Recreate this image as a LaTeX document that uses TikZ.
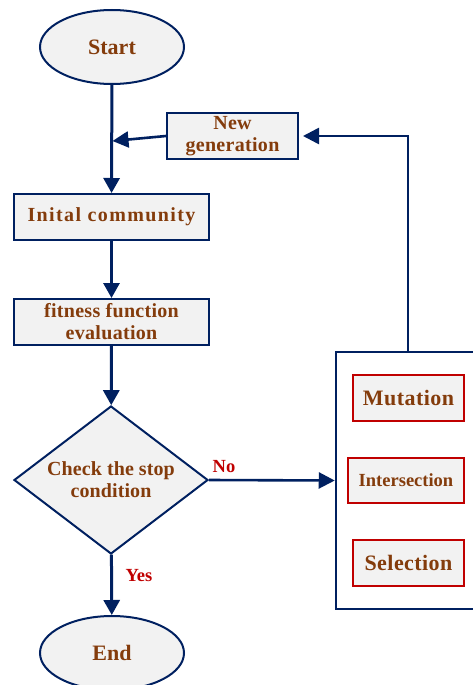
\documentclass[tikz,border=0pt]{standalone}
\usepackage{fontspec}
\setmainfont{Liberation Serif}
\usetikzlibrary{shapes.geometric,arrows.meta}
\definecolor{navy}{HTML}{002060}
\definecolor{boxfill}{HTML}{F2F2F2}
\definecolor{txtbrown}{HTML}{843C0C}
\definecolor{darkred}{HTML}{C00000}
\newcommand{\lsp}[1]{\addfontfeature{LetterSpace=#1}}
\begin{document}
\begin{tikzpicture}[x=1pt,y=-1pt,
  term/.style={ellipse,draw=navy,line width=2pt,fill=boxfill,minimum width=144pt,minimum height=74pt,inner sep=0pt,
    text=txtbrown,font=\bfseries\fontsize{22}{24}\selectfont},
  proc/.style={rectangle,draw=navy,line width=2pt,fill=boxfill,minimum height=46pt,inner sep=0pt,align=center,
    text=txtbrown,font=\bfseries\fontsize{20}{22}\selectfont\lsp{1.5}},
  dec/.style={diamond,draw=navy,line width=2pt,fill=boxfill,minimum width=194pt,minimum height=148pt,aspect=1.31,inner sep=0pt,align=center,
    text=txtbrown,font=\bfseries\fontsize{20}{22}\selectfont\lsp{0.5}},
  bigbox/.style={rectangle,draw=navy,line width=2.5pt,inner sep=0pt},
  opbox/.style={rectangle,draw=darkred,line width=2pt,fill=boxfill,inner sep=0pt,
    text=txtbrown,font=\bfseries\fontsize{22}{24}\selectfont\lsp{2}},
  conn/.style={draw=navy,line width=3pt,-{Triangle[length=15pt,width=16pt]}},
  conntwo/.style={draw=navy,line width=2.6pt,-{Triangle[length=16pt,width=16pt]}},
  lbl/.style={text=darkred,font=\bfseries\fontsize{18.5}{20}\selectfont,inner sep=0pt}
]
\useasboundingbox (0,0) rectangle (473,685);
\clip (0,0) rectangle (473,685);

\node[term] (start) at (112,47) {Start};
\node[proc,minimum width=131pt] (newgen) at (232.5,136) {New\\generation};
\node[proc,minimum width=195pt,font=\bfseries\fontsize{20}{22}\selectfont\lsp{7}] (init) at (111.5,217) {Inital community};
\node[proc,minimum width=195pt] (fit) at (111.5,322) {fitness function\\evaluation};
\node[dec] (check) at (111,480) {Check the stop\\condition};
\node[term] (end) at (112,653) {End};

\node[bigbox,minimum width=144pt,minimum height=257pt] (ops) at (408,480.5) {};
\node[opbox,minimum width=111pt,minimum height=46pt] (mut) at (408.5,398) {Mutation};
\node[opbox,minimum width=116pt,minimum height=45pt,font=\bfseries\fontsize{18.5}{20}\selectfont] (inter) at (406,480.5) {Intersection};
\node[opbox,minimum width=111pt,minimum height=46pt] (sel) at (408.5,563) {Selection};

\coordinate (join) at (112.5,141);
\node[lbl] (nolbl) at (224,467) {No};
\node[lbl] (yeslbl) at (139,576) {Yes};

\draw[conn] (start) -- (init);
\draw[conntwo] (newgen.west) -- (join);
\draw[conn] (init) -- (fit);
\draw[conn] (fit) -- (check);
\draw[conn] (check) -- (end);
\draw[conntwo] (check.east) -- (ops.west);
\draw[conntwo,shorten >=4pt] (ops.north) |- (newgen.east);
\end{tikzpicture}
\end{document}
